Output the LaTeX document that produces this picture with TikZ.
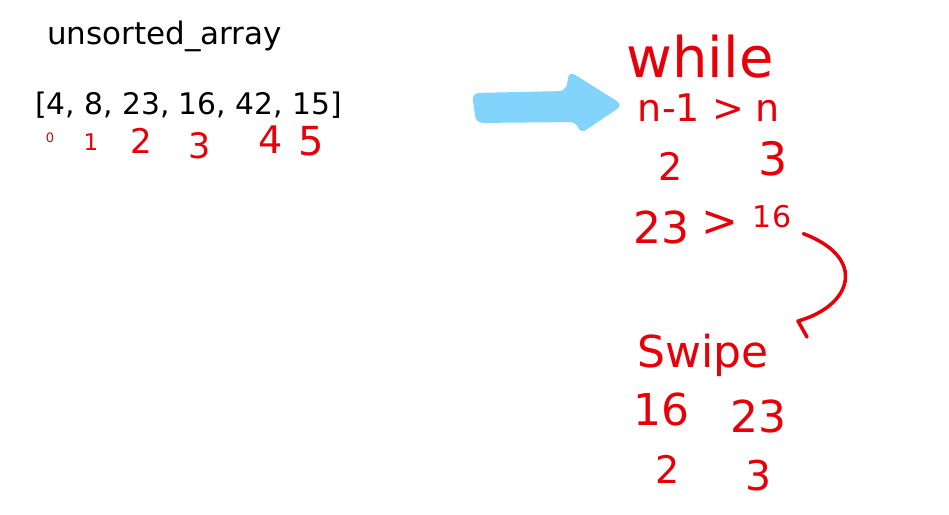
\documentclass[tikz,border=0pt]{standalone}
\usepackage{fontspec}
\setmainfont{DejaVu Sans}
\definecolor{inkred}{RGB}{232,0,8}
\definecolor{skyblue}{RGB}{130,212,252}
\newcommand{\fs}[1]{\fontsize{#1}{#1}\selectfont}
\tikzset{
  hand/.style={text=inkred, inner sep=0pt, anchor=base},
  plaintext/.style={text=black, inner sep=0pt, anchor=base west},
  redstroke/.style={draw=inkred, line width=3.5pt, line cap=round, line join=round},
}
\begin{document}
\begin{tikzpicture}[x=1pt,y=-1pt]
\useasboundingbox[fill=white] (0,0) rectangle (949,514);
% black text
\node[plaintext,font=\fs{31}] (title) at (47,44) {unsorted\_array};
\node[plaintext,font=\fs{29.7}] (arr) at (35,114) {[4, 8, 23, 16, 42, 15]};
% indices
\node[hand,font=\fs{13}] (i0) at (50,142) {0};
\node[hand,font=\fs{23}] (i1) at (91,150) {1};
\node[hand,font=\fs{34}] (i2) at (141,153) {2};
\node[hand,font=\fs{35}] (i3) at (200,158) {3};
\node[hand,font=\fs{38}] (i4) at (271,153) {4};
\node[hand,font=\fs{40}] (i5) at (311,155) {5};
% blue arrow
\path[fill=skyblue, rounded corners=7]
  (472,93) -- (566,91) -- (569,71) -- (623,105) -- (580,134) -- (577,122) -- (476,123) -- cycle;
% right column
\node[hand,font=\fs{56}] (while) at (700,77) {while};
\node[hand,font=\fs{38}] (cond) at (709,121) {n-1 > n};
\node[hand,font=\fs{38}] (a2) at (671,180) {2};
\node[hand,font=\fs{46}] (a3) at (773,175) {3};
\node[hand,font=\fs{44}] (v23) at (661,243) {23};
\node[hand,font=\fs{44}, anchor=center] (gt) at (720,224) {>};
\node[hand,font=\fs{30}] (v16) at (772,227) {16};
\coordinate (ce) at (798,321);
\draw[redstroke] ([xshift=12pt,yshift=-6pt]v16.south east) .. controls (868,258) and (852,306) .. (ce) -- ++(9,16);
\node[hand,font=\fs{44}] (swipe) at (703,367) {Swipe};
\node[hand,font=\fs{44}] (s16) at (661,425) {16};
\node[hand,font=\fs{44}] (s23) at (758,432) {23};
\node[hand,font=\fs{38}] (s2) at (668,483) {2};
\node[hand,font=\fs{41}] (s3) at (759,490) {3};
\end{tikzpicture}
\end{document}
